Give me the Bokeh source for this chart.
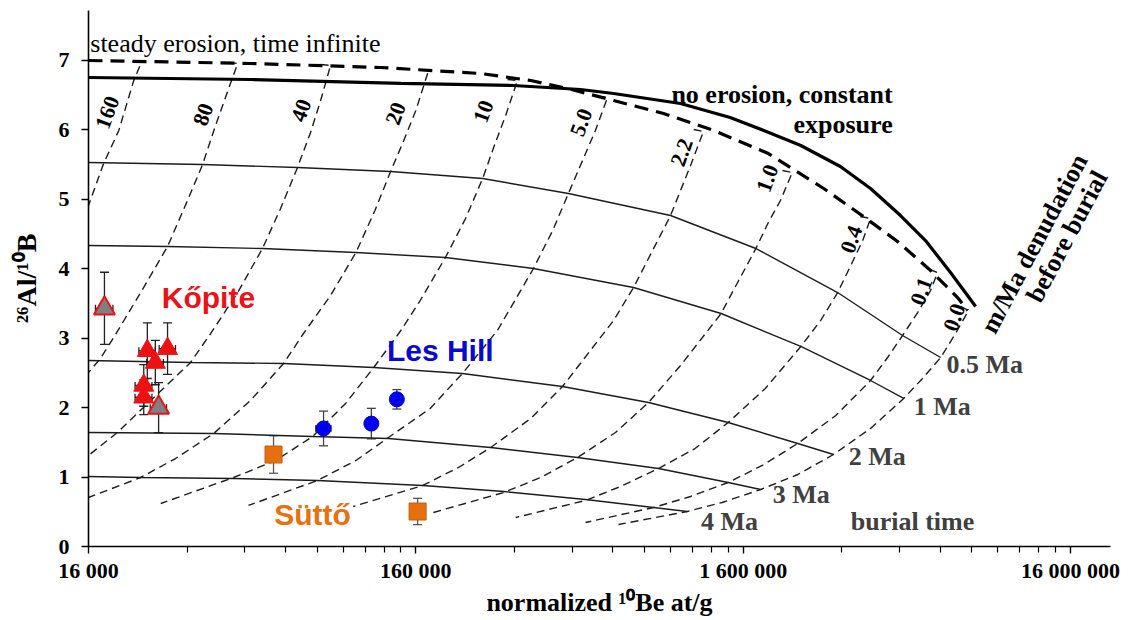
from bokeh.plotting import figure
from bokeh.models import (Range1d, FixedTicker, CustomJSTickFormatter, Label,
                          ColumnDataSource, Whisker, TeeHead)
from bokeh.embed import file_html
from bokeh.resources import INLINE

# ---------------- data (normalized 10Be at/g , 26Al/10Be) ----------------
x_major = [16000, 160000, 1600000, 16000000]
x_tick_labels = ["16 000", "160 000", "1 600 000", "16 000 000"]
y_ticks = [0, 1, 2, 3, 4, 5, 6, 7]

# steady erosion, time infinite (thick dashed)
steady_x = [16.0e3, 50.0e3, 125e3, 252e3, 359e3, 465e3, 643e3, 914e3, 1.30e6, 1.91e6,
            2.82e6, 3.73e6, 4.74e6, 5.98e6, 7.23e6, 7.76e6]
steady_y = [7.000, 6.957, 6.899, 6.813, 6.712, 6.597, 6.424, 6.236, 5.992, 5.660,
            5.156, 4.753, 4.393, 3.975, 3.586, 3.399]
# no erosion, constant exposure (thick solid)
const_x = [16.0e3, 50.0e3, 144e3, 318e3, 510e3, 643e3, 1.03e6, 1.46e6, 1.85e6, 2.40e6,
           3.17e6, 3.92e6, 4.84e6, 5.77e6, 6.88e6, 8.21e6]
const_y = [6.755, 6.726, 6.669, 6.640, 6.582, 6.525, 6.381, 6.179, 5.992, 5.776,
           5.473, 5.156, 4.767, 4.407, 3.946, 3.457]

# burial isochrons
iso05_x = [16.0e3, 35.7e3, 69.6e3, 134e3, 256e3, 468e3, 960e3, 1.75e6, 3.11e6, 4.91e6, 6.42e6]
iso05_y = [5.531, 5.502, 5.459, 5.401, 5.300, 5.084, 4.767, 4.292, 3.658, 3.039, 2.722]
iso1_x = [16.0e3, 27.9e3, 54.4e3, 105e3, 197e3, 366e3, 740e3, 1.37e6, 2.40e6, 3.92e6, 4.95e6]
iso1_y = [4.335, 4.321, 4.292, 4.234, 4.162, 4.004, 3.730, 3.356, 2.881, 2.391, 2.132]
iso2_x = [16.0e3, 32.8e3, 63.1e3, 119e3, 222e3, 449e3, 822e3, 1.44e6, 2.35e6, 3.02e6]
iso2_y = [2.679, 2.650, 2.636, 2.578, 2.492, 2.304, 2.074, 1.786, 1.484, 1.325]
iso3_x = [16.0e3, 38.6e3, 77.4e3, 132e3, 271e3, 499e3, 882e3, 1.44e6, 1.81e6]
iso3_y = [1.642, 1.628, 1.584, 1.556, 1.426, 1.282, 1.123, 0.922, 0.821]
iso4_x = [16.0e3, 23.1e3, 44.4e3, 80.1e3, 168e3, 297e3, 528e3, 852e3, 1.08e6]
iso4_y = [1.008, 0.994, 0.979, 0.951, 0.879, 0.792, 0.677, 0.562, 0.504]

# denudation-rate lines (m/Ma before burial)
e160_x = [21.8e3, 23.2e3, 22.0e3, 19.8e3, 17.8e3, 16.0e3]
e160_y = [6.985, 6.971, 6.712, 5.992, 5.516, 4.911]
e80_x = [42.9e3, 45.7e3, 43.2e3, 39.1e3, 35.7e3, 32.1e3, 27.9e3, 23.1e3, 19.1e3, 17.4e3, 16.0e3]
e80_y = [6.971, 6.957, 6.640, 6.064, 5.502, 4.983, 4.321, 3.658, 3.010, 2.708, 2.506]
e40_x = [81.9e3, 87.8e3, 81.9e3, 76.3e3, 69.6e3, 61.8e3, 54.4e3, 45.7e3, 37.8e3, 32.8e3,
         24.8e3, 19.6e3, 16.0e3]
e40_y = [6.942, 6.928, 6.424, 5.963, 5.459, 4.868, 4.292, 3.658, 3.068, 2.650,
         2.103, 1.642, 1.311]
e20_x = [163e3, 175e3, 160e3, 147e3, 134e3, 120e3, 105e3, 87.8e3, 72.6e3, 63.1e3,
         50.0e3, 38.6e3, 29.5e3, 23.1e3, 16.0e3]
e20_y = [6.870, 6.856, 6.280, 5.848, 5.401, 4.839, 4.234, 3.615, 3.068, 2.636,
         2.103, 1.628, 1.267, 0.994, 0.706]
e10_x = [305e3, 327e3, 301e3, 278e3, 256e3, 227e3, 197e3, 165e3, 144e3, 119e3,
         97.6e3, 77.4e3, 59.7e3, 44.4e3, 26.6e3]
e10_y = [6.726, 6.712, 6.208, 5.776, 5.300, 4.724, 4.162, 3.543, 3.111, 2.578,
         2.060, 1.584, 1.239, 0.994, 0.619]
e5_x = [574e3, 616e3, 566e3, 517e3, 468e3, 419e3, 366e3, 284e3, 222e3, 177e3,
        132e3, 105e3, 80.1e3, 49.3e3]
e5_y = [6.481, 6.467, 5.992, 5.560, 5.084, 4.551, 4.004, 3.111, 2.492, 1.988,
        1.570, 1.239, 0.951, 0.591]
e22_x = [1.13e6, 1.21e6, 1.105e6, 1.03e6, 960e3, 846e3, 740e3, 643e3, 449e3, 359e3,
         271e3, 216e3, 168e3, 103e3]
e22_y = [6.006, 5.977, 5.488, 5.127, 4.767, 4.263, 3.730, 3.255, 2.304, 1.844,
         1.426, 1.138, 0.879, 0.576]
e1_x = [2.11e6, 2.26e6, 2.08e6, 1.91e6, 1.75e6, 1.55e6, 1.37e6, 1.03e6, 822e3, 652e3,
        499e3, 385e3, 297e3, 181e3]
e1_y = [5.416, 5.387, 4.983, 4.667, 4.292, 3.831, 3.356, 2.607, 2.074, 1.642,
        1.282, 0.994, 0.778, 0.490]
e04_x = [3.65e6, 3.92e6, 3.71e6, 3.41e6, 3.11e6, 2.76e6, 2.40e6, 1.87e6, 1.44e6, 1.14e6,
         882e3, 675e3, 528e3, 323e3]
e04_y = [4.753, 4.724, 4.407, 4.047, 3.658, 3.255, 2.881, 2.276, 1.786, 1.411,
         1.123, 0.864, 0.663, 0.418]
e01_x = [5.94e6, 6.28e6, 5.98e6, 5.46e6, 4.91e6, 4.42e6, 3.92e6, 3.07e6, 2.35e6, 1.83e6,
         1.44e6, 1.105e6, 852e3, 528e3]
e01_y = [3.990, 3.946, 3.687, 3.370, 3.039, 2.722, 2.391, 1.887, 1.484, 1.167,
         0.922, 0.720, 0.562, 0.346]
e00_x = [7.39e6, 7.81e6, 7.13e6, 6.42e6, 5.65e6, 4.95e6, 3.92e6, 3.02e6, 2.35e6, 1.81e6,
         1.38e6, 1.08e6, 666e3]
e00_y = [3.457, 3.399, 3.068, 2.722, 2.420, 2.132, 1.700, 1.325, 1.037, 0.821,
         0.634, 0.504, 0.317]

# samples
kop_red_x = [24.2e3, 27.9e3, 23.6e3, 23.6e3, 25.6e3]
kop_red_y = [2.82, 2.85, 2.32, 2.15, 2.65]
kop_red_yerr = [0.40, 0.37, 0.30, 0.25, 0.32]
kop_red_xerr = [1.4e3, 1.6e3, 1.4e3, 1.4e3, 1.5e3]
kop_grey_x = [17.9e3, 26.2e3]
kop_grey_y = [3.43, 2.00]
kop_grey_yerr = [0.52, 0.36]
kop_grey_xerr = [1.1e3, 1.5e3]
les_x = [83.6e3, 117e3, 140e3]
les_y = [1.70, 1.77, 2.12]
les_yerr = [0.25, 0.22, 0.14]
les_xerr = [4.5e3, 3.0e3, 3.5e3]
sut_x = [58.8e3, 162e3]
sut_y = [1.325, 0.504]
sut_yerr = [0.27, 0.19]

# ---------------- figure ----------------
SERIF = "Liberation Serif"
SANS = "Liberation Sans"

p = figure(width=1129, height=620, x_axis_type="log",
           x_range=Range1d(16000, 2.12e7), y_range=Range1d(0, 7.72),
           output_backend="svg", toolbar_location=None,
           min_border_left=88, min_border_right=19, min_border_top=10,
           min_border_bottom=74)
p.outline_line_color = None
p.grid.visible = False

xa = p.xaxis[0]
ya = p.yaxis[0]
x_minor = [k * t for t in [16000, 160000, 1600000] for k in range(2, 10)]
xa.ticker = FixedTicker(ticks=x_major, minor_ticks=x_minor)
xa.formatter = CustomJSTickFormatter(
    code=r"return Math.round(tick).toString().replace(/\B(?=(\d{3})+(?!\d))/g, ' ');")
xa.major_label_overrides = dict(zip(x_major, x_tick_labels))
ya.ticker = FixedTicker(ticks=y_ticks)

for ax in (xa, ya):
    ax.axis_line_color = "black"
    ax.axis_line_width = 1.6
    ax.major_tick_line_color = "black"
    ax.major_tick_line_width = 1.4
    ax.minor_tick_line_color = "black"
    ax.minor_tick_line_width = 1.2
    ax.major_tick_in = 0
    ax.major_tick_out = 7
    ax.minor_tick_in = 0
    ax.minor_tick_out = 6
    ax.major_label_text_font = SERIF
    ax.major_label_text_font_style = "bold"
    ax.major_label_text_font_size = "22px"
    ax.major_label_text_color = "black"
    ax.axis_label_text_font = SERIF
    ax.axis_label_text_font_style = "bold"
    ax.axis_label_text_color = "black"

xa.axis_label = "normalized \u00b9\u2070Be at/g"
xa.axis_label_text_font_size = "26px"
xa.major_label_standoff = 4
xa.axis_label_standoff = 2
ya.axis_label = "\u00b2\u2076Al/\u00b9\u2070B"
ya.axis_label_text_font_size = "28px"
ya.major_label_standoff = 12
ya.axis_label_standoff = 14

# ---------------- curves ----------------
ISO = "#1c1c1c"
for xs, ys in [(iso05_x, iso05_y), (iso1_x, iso1_y), (iso2_x, iso2_y),
               (iso3_x, iso3_y), (iso4_x, iso4_y)]:
    p.line(xs, ys, line_color=ISO, line_width=1.4)

for xs, ys in [(e160_x, e160_y), (e80_x, e80_y), (e40_x, e40_y), (e20_x, e20_y),
               (e10_x, e10_y), (e5_x, e5_y), (e22_x, e22_y), (e1_x, e1_y),
               (e04_x, e04_y), (e01_x, e01_y), (e00_x, e00_y)]:
    p.line(xs, ys, line_color=ISO, line_width=1.4, line_dash="8 5")

p.line(steady_x, steady_y, line_color="black", line_width=3.2, line_dash="14 8")
p.line(const_x, const_y, line_color="black", line_width=3.2)

# ---------------- error bars ----------------
def add_errors(xs, ys, yerr, xerr, color):
    src = ColumnDataSource(dict(
        x=xs, y=ys,
        ylo=[v - e for v, e in zip(ys, yerr)], yhi=[v + e for v, e in zip(ys, yerr)]))
    p.add_layout(Whisker(source=src, base="x", lower="ylo", upper="yhi",
                         dimension="height", line_color=color, line_width=1.3,
                         upper_head=TeeHead(size=9, line_color=color, line_width=1.3),
                         lower_head=TeeHead(size=9, line_color=color, line_width=1.3)))
    if xerr is not None:
        src2 = ColumnDataSource(dict(
            y=ys, xlo=[v - e for v, e in zip(xs, xerr)],
            xhi=[v + e for v, e in zip(xs, xerr)]))
        p.add_layout(Whisker(source=src2, base="y", lower="xlo", upper="xhi",
                             dimension="width", line_color=color, line_width=1.3,
                             upper_head=TeeHead(size=7, line_color=color, line_width=1.3),
                             lower_head=TeeHead(size=7, line_color=color, line_width=1.3)))

add_errors(kop_grey_x, kop_grey_y, kop_grey_yerr, kop_grey_xerr, "#222222")
add_errors(kop_red_x, kop_red_y, kop_red_yerr, kop_red_xerr, "#222222")
add_errors(les_x, les_y, les_yerr, les_xerr, "#444444")
add_errors(sut_x, sut_y, sut_yerr, None, "#555555")

# ---------------- markers ----------------
p.scatter(kop_grey_x, kop_grey_y, marker="triangle", size=21,
          fill_color="#808080", line_color="#e8141b", line_width=2)
p.scatter(kop_red_x, kop_red_y, marker="triangle", size=20,
          fill_color="#ee1111", line_color="#e8141b", line_width=1)
p.scatter(les_x, les_y, marker="circle", size=15,
          fill_color="#0000ee", line_color="#0000cc", line_width=1)
p.scatter(sut_x, sut_y, marker="square", size=17,
          fill_color="#e4700e", line_color="#c65c08", line_width=1)

# ---------------- annotations ----------------
def lab(x, y, text, size="26px", font=SERIF, style="bold", color="black",
        align="left", baseline="alphabetic", angle=0):
    p.add_layout(Label(x=x, y=y, text=text, text_font=font, text_font_size=size,
                       text_font_style=style, text_color=color, text_align=align,
                       text_baseline=baseline, angle=angle, angle_units="deg"))

lab(16.2e3, 7.245, "steady erosion, time infinite", style="normal")
lab(4.58e6, 6.51, "no erosion, constant", align="right")
lab(4.58e6, 6.078, "exposure", align="right")
lab(12.4e6, 4.364, "m/Ma denudation", align="center", baseline="middle", angle=62)
lab(15.6e6, 4.465, "before burial", align="center", baseline="middle", angle=62)

for x, y, t in [(18.3e3, 6.251, "160"), (35.9e3, 6.222, "80"), (71.6e3, 6.280, "40"),
                (139e3, 6.236, "20"), (258e3, 6.265, "10"), (513e3, 6.107, "5.0"),
                (1.04e6, 5.675, "2.2"), (1.90e6, 5.300, "1.0"), (3.43e6, 4.422, "0.4"),
                (5.61e6, 3.673, "0.1"), (7.08e6, 3.298, "0.0")]:
    lab(x, y, t, size="22px", align="center", baseline="middle", angle=70)

GREY = "#404040"
for x, y, t in [(6.69e6, 2.621, "0.5 Ma"), (5.31e6, 2.016, "1 Ma"),
                (3.36e6, 1.296, "2 Ma"), (1.97e6, 0.749, "3 Ma"),
                (1.19e6, 0.360, "4 Ma"), (3.41e6, 0.360, "burial time")]:
    lab(x, y, t, color=GREY, baseline="middle")

lab(37.2e3, 3.586, "K\u0151pite", size="30px", font=SANS, color="#e8141b",
    align="center", baseline="middle")
lab(190e3, 2.823, "Les Hill", size="30px", font=SANS, color="#0a0acc",
    align="center", baseline="middle")
lab(77.4e3, 0.461, "S\u00fctt\u0151", size="30px", font=SANS, color="#e8700e",
    align="center", baseline="middle")

open("out.html", "w").write(file_html(p, INLINE))
